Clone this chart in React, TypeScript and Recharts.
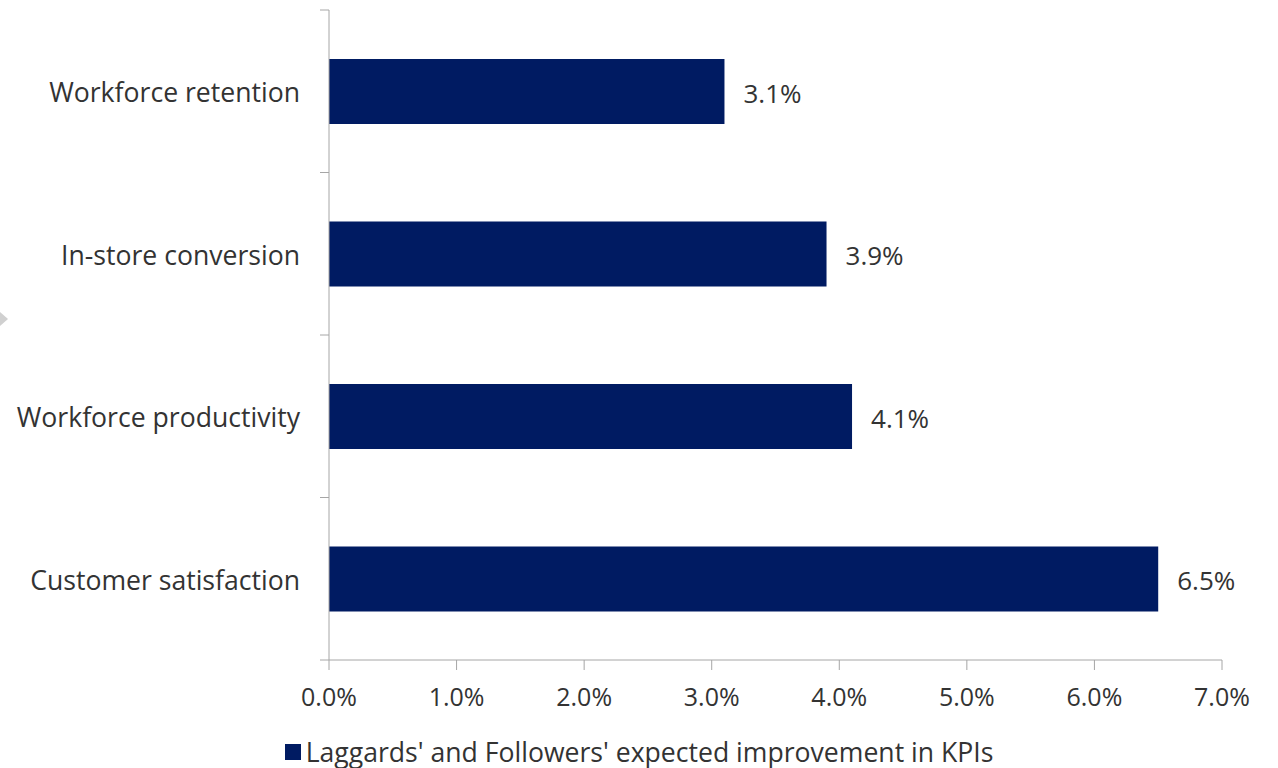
import React from 'react';
import { BarChart, Bar, XAxis, YAxis, Legend, LabelList } from 'recharts';

const categories = ['Workforce retention', 'In-store conversion', 'Workforce productivity', 'Customer satisfaction'];
const improvement = [3.1, 3.9, 4.1, 6.5];
const xTicks = [0, 1, 2, 3, 4, 5, 6, 7];
const seriesName = "Laggards' and Followers' expected improvement in KPIs";

const data = categories.map((c, i) => ({ name: c, value: improvement[i] }));

const FONT = "'Open Sans', sans-serif";
const TEXT = '#333333';
const AXIS = '#a6a6a6';
const BAR = '#001b62';
const CAT_MARGIN = 29;
const CAT_TICK_LEN = 9;

const LegendContent = () => (
  <div style={{ display: 'flex', justifyContent: 'center', alignItems: 'center', height: 48, paddingTop: 16, boxSizing: 'border-box', fontFamily: FONT, fontSize: 26.6, color: TEXT }}>
    <span style={{ display: 'inline-block', width: 16, height: 16, background: BAR, marginRight: 5 }} />
    <span>{seriesName}</span>
  </div>
);

const CategoryTick = (props: any) => {
  const { x, y, payload, index, visibleTicksCount } = props;
  const axisX = x + CAT_MARGIN;
  const half = payload.offset || 0;
  return (
    <g>
      <line x1={axisX - CAT_TICK_LEN} x2={axisX} y1={y - half} y2={y - half} stroke={AXIS} strokeWidth={1} />
      {index === visibleTicksCount - 1 && (
        <line x1={axisX - CAT_TICK_LEN} x2={axisX} y1={y + half} y2={y + half} stroke={AXIS} strokeWidth={1} />
      )}
      <text x={x} y={y} dy={11} textAnchor="end" fill={TEXT} fontSize={26.6} fontFamily={FONT}>
        {payload.value}
      </text>
    </g>
  );
};

export default function App() {
  return (
    <div style={{ position: 'absolute', left: 0, top: 0, width: 1278, height: 768, background: '#fff' }}>
      <svg width={10} height={14} style={{ position: 'absolute', left: 0, top: 312 }}>
        <polygon points="0,0 8,7 0,14" fill="#d0d0d0" />
      </svg>
      <BarChart
        width={1278}
        height={768}
        data={data}
        layout="vertical"
        margin={{ top: 10, right: 56, left: 328, bottom: 0 }}
        barSize={65}
      >
        <XAxis
          type="number"
          domain={[0, 7]}
          ticks={xTicks}
          tickFormatter={(v: number) => `${v.toFixed(1)}%`}
          stroke={AXIS}
          tickSize={10}
          tickMargin={18}
          height={60}
          tick={{ fill: TEXT, fontSize: 25, fontFamily: FONT }}
          interval={0}
        />
        <YAxis
          type="category"
          dataKey="name"
          stroke={AXIS}
          tickLine={false}
          tickSize={0}
          tickMargin={CAT_MARGIN}
          width={1}
          tick={<CategoryTick />}
          interval={0}
        />
        <Legend verticalAlign="bottom" height={48} wrapperStyle={{ left: 0, width: 1278 }} content={<LegendContent />} />
        <Bar dataKey="value" fill={BAR} isAnimationActive={false} name={seriesName}>
          <LabelList
            dataKey="value"
            position="right"
            offset={19}
            dy={2}
            formatter={(v: number) => `${v.toFixed(1)}%`}
            style={{ fill: TEXT, fontSize: 26, fontFamily: FONT }}
          />
        </Bar>
      </BarChart>
    </div>
  );
}
